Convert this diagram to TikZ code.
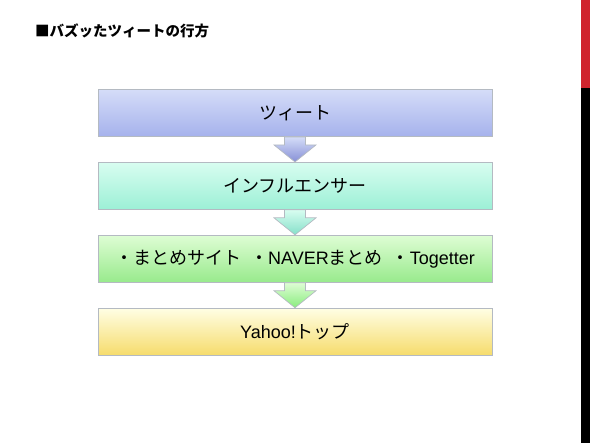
\documentclass[tikz,border=0pt]{standalone}
\usepackage{fontspec}
\setmainfont{Liberation Sans}
\newfontfamily\jp{Noto Sans CJK JP}
\usepackage{tikz}
\usetikzlibrary{positioning,calc}
\usepackage{xcolor}
\definecolor{tweettop}{HTML}{D4DCF8}
\definecolor{tweetbot}{HTML}{A6B2EC}
\definecolor{infltop}{HTML}{D8FDF0}
\definecolor{inflbot}{HTML}{9CF0D6}
\definecolor{sitetop}{HTML}{DEFDD4}
\definecolor{sitebot}{HTML}{98EA8C}
\definecolor{yahootop}{HTML}{FFFEE4}
\definecolor{yahoobot}{HTML}{F6DC6C}
\definecolor{edge}{HTML}{B4BAC2}
\definecolor{slidered}{HTML}{D0242E}
\tikzset{
  stage/.style={draw=edge,line width=0.9pt,minimum width=394pt,minimum height=47pt,
    inner sep=0pt,align=center,font=\fontsize{18}{21}\selectfont},
  down/.style={draw=edge,line width=0.7pt},
  heading/.style={anchor=west,inner sep=0pt,font=\jp\bfseries\fontsize{14.5}{17}\selectfont}
}
\begin{document}
\begin{tikzpicture}[node distance=25pt]
        \useasboundingbox (0,0) rectangle (590pt,-443pt);
        \fill[slidered] (580.5pt,0) rectangle (590pt,-88pt);
        \fill[black] (580.5pt,-88pt) rectangle (590pt,-443pt);
        \node[heading] (title) at (35pt,-31pt) {■バズッたツィートの行方};
        \node[stage,top color=tweettop,bottom color=tweetbot] (tweet) at (295pt,-113pt) {\jp ツィート};
        \node[stage,top color=infltop,bottom color=inflbot,below=of tweet] (infl) {\jp インフルエンサー};
        \node[stage,top color=sitetop,bottom color=sitebot,below=of infl] (site)
          {{\jp ・まとめサイト}\hspace{0.5em}{\jp ・}NAVER{\jp まとめ}\hspace{0.5em}{\jp ・}Togetter};
        \node[stage,top color=yahootop,bottom color=yahoobot,below=of site] (yahoo) {Yahoo!{\jp トップ}};
        \path[down,top color=tweettop,bottom color=tweetbot!90!blue!90!black]
          ($(tweet.south)+(-10.5pt,0)$) -- ++(0,-8pt) -- ++(-10.5pt,0) -- (infl.north)
          -- ++(21pt,17pt) -- ++(-10.5pt,0) -- ++(0,8pt) -- cycle;
        \path[down,top color=infltop,bottom color=inflbot!85!teal]
          ($(infl.south)+(-10.5pt,0)$) -- ++(0,-8pt) -- ++(-10.5pt,0) -- (site.north)
          -- ++(21pt,17pt) -- ++(-10.5pt,0) -- ++(0,8pt) -- cycle;
        \path[down,top color=sitetop,bottom color=sitebot!90!green]
          ($(site.south)+(-10.5pt,0)$) -- ++(0,-8pt) -- ++(-10.5pt,0) -- (yahoo.north)
          -- ++(21pt,17pt) -- ++(-10.5pt,0) -- ++(0,8pt) -- cycle;
      \end{tikzpicture}
\end{document}
